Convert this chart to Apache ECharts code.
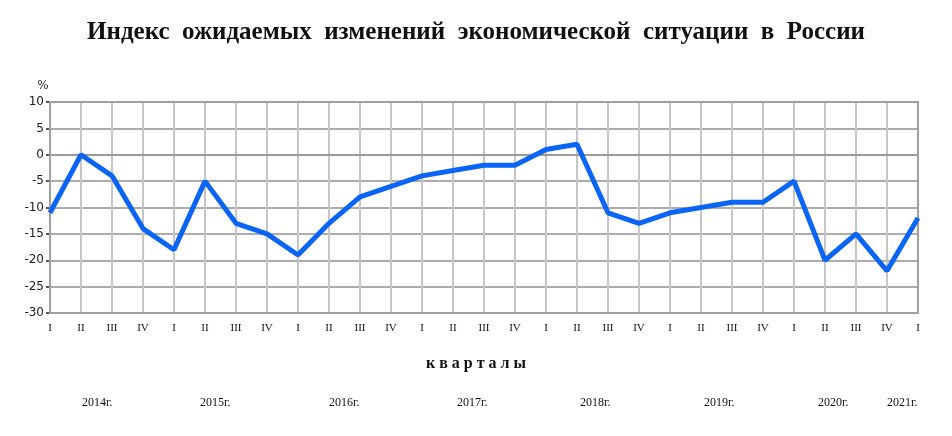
<!DOCTYPE html>
<html>
<head>
<meta charset="utf-8">
<script src="https://cdn.jsdelivr.net/npm/echarts@6/dist/echarts.min.js"></script>
<style>
  html, body { margin: 0; padding: 0; background: #fff; }
  #chart { width: 952px; height: 436px; }
</style>
</head>
<body>
<div id="chart"></div>
<script>
// кварталы 2014 I ... 2021 I
const quarters = ['I','II','III','IV','I','II','III','IV','I','II','III','IV','I','II','III','IV',
  'I','II','III','IV','I','II','III','IV','I','II','III','IV','I'];
const indexValues = [-11, 0, -4, -14, -18, -5, -13, -15, -19, -13, -8, -6, -4, -3, -2, -2,
  1, 2, -11, -13, -11, -10, -9, -9, -5, -20, -15, -22, -12];
const yearLabels = ['2014г.', '2015г.', '2016г.', '2017г.', '2018г.', '2019г.', '2020г.', '2021г.'];
const yearLabelX = [100, 218, 347, 475, 598, 722, 836, 905];

const chart = echarts.init(document.getElementById('chart'));

const yearTexts = yearLabels.map((t, i) => ({
  type: 'text',
  left: yearLabelX[i] - 18,
  top: 397,
  style: { text: t, font: '12px "Liberation Serif", serif', fill: '#111' }
}));

const option = {
  animation: false,
  title: {
    text: 'Индекс  ожидаемых  изменений  экономической  ситуации  в  России',
    left: 'center',
    top: 15,
    textStyle: { fontFamily: '"Liberation Serif", serif', fontWeight: 'bold', fontSize: 25, color: '#111' }
  },
  grid: { left: 50, right: 34, top: 102, bottom: 123 },
  xAxis: {
    type: 'category',
    data: quarters,
    boundaryGap: false,
    axisLine: { show: true, lineStyle: { color: '#9a9a9a', width: 2 } },
    axisTick: { show: false },
    axisLabel: { margin: 10, interval: 0, fontFamily: '"Liberation Serif", serif', fontSize: 11, color: '#111' },
    splitLine: { show: true, interval: 0, lineStyle: { color: '#c6c6c6', width: 2 } }
  },
  yAxis: {
    type: 'value',
    min: -30,
    max: 10,
    interval: 5,
    name: '%',
    nameGap: 10,
    nameTextStyle: { fontFamily: '"DejaVu Sans", sans-serif', fontSize: 12, color: '#333', padding: [0, 14, 0, 0] },
    axisLine: { show: true, lineStyle: { color: '#555', width: 2 } },
    axisTick: { show: true, length: 4, lineStyle: { color: '#555', width: 2 } },
    axisLabel: { margin: 6, fontFamily: '"DejaVu Sans", sans-serif', fontSize: 12, color: '#222' },
    splitLine: { show: true, lineStyle: { color: '#acacac', width: 2 } }
  },
  graphic: [
    {
      type: 'rect',
      shape: { x: 50, y: 102, width: 868, height: 211 },
      style: { fill: 'none', stroke: '#a0a0a0', lineWidth: 2 },
      silent: true, z: 1
    },
    {
      type: 'text',
      left: 'center',
      top: 356,
      style: { text: 'к в а р т а л ы', font: 'bold 16px "Liberation Serif", serif', fill: '#111' }
    }
  ].concat(yearTexts),
  series: [{
    type: 'line',
    data: indexValues,
    symbol: 'none',
    lineStyle: { color: '#0a64f5', width: 5 },
    z: 5
  }]
};

chart.setOption(option);
</script>
</body>
</html>
